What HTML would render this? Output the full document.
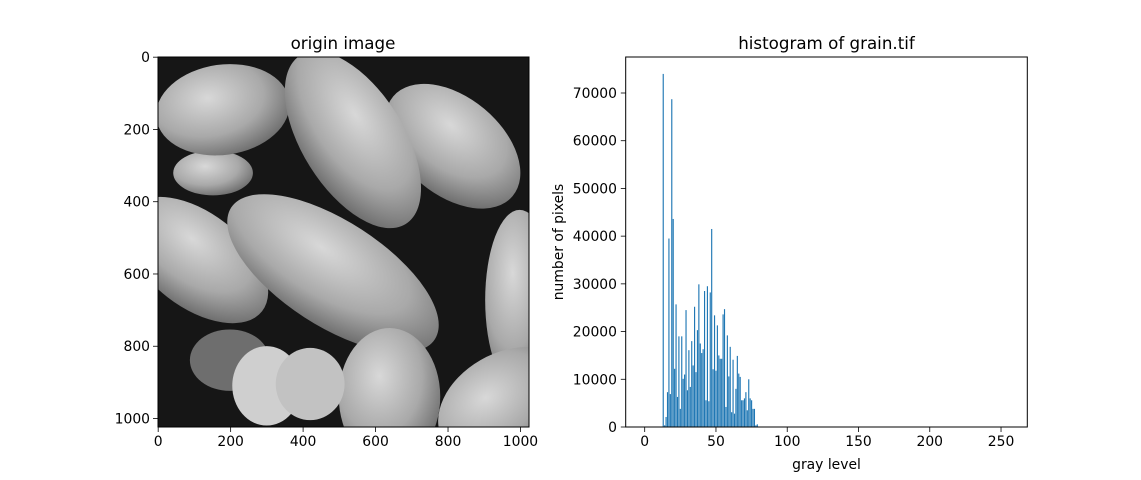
<!DOCTYPE html>
<html><head><meta charset="utf-8"><style>
html,body{margin:0;padding:0;background:#fff;}
svg{display:block;font-family:"DejaVu Sans","Liberation Sans",sans-serif;}
</style></head><body>
<svg id="fig" width="1141" height="480" viewBox="0 0 1141 480">
<defs>
<radialGradient id="pg" cx="40%" cy="35%" r="70%">
<stop offset="0" stop-color="#d8d8d8"/><stop offset="0.6" stop-color="#a9a9a9"/><stop offset="1" stop-color="#6a6a6a"/>
</radialGradient>
<clipPath id="imgclip"><rect x="0" y="0" width="1024" height="1024"/></clipPath>
</defs>
<g>
<svg x="158" y="57" width="371" height="370" viewBox="0 0 1024 1024" preserveAspectRatio="none">
<g clip-path="url(#imgclip)">
<rect x="0" y="0" width="1024" height="1024" fill="#161616"/>
<ellipse cx="198" cy="839" rx="110" ry="85" fill="#6e6e6e"/>
<ellipse cx="152" cy="321" rx="110" ry="62" fill="url(#pg)"/>
<ellipse cx="179" cy="146" rx="185" ry="125" transform="rotate(-8 179 146)" fill="url(#pg)"/>
<ellipse cx="814" cy="247" rx="215" ry="135" transform="rotate(40 814 247)" fill="url(#pg)"/>
<ellipse cx="538" cy="229" rx="275" ry="140" transform="rotate(58 538 229)" fill="url(#pg)"/>
<ellipse cx="998" cy="673" rx="95" ry="250" fill="url(#pg)"/>
<ellipse cx="106" cy="562" rx="230" ry="130" transform="rotate(38 106 562)" fill="url(#pg)"/>
<ellipse cx="483" cy="599" rx="335" ry="145" transform="rotate(33 483 599)" fill="url(#pg)"/>
<ellipse cx="639" cy="940" rx="140" ry="190" fill="url(#pg)"/>
<ellipse cx="300" cy="910" rx="95" ry="110" fill="#cfcfcf"/>
<ellipse cx="420" cy="905" rx="95" ry="100" fill="#c2c2c2"/>
<ellipse cx="960" cy="960" rx="200" ry="140" transform="rotate(-30 960 960)" fill="url(#pg)"/>
</g>
</svg>
<rect x="158" y="57" width="371" height="370" fill="none" stroke="#000" stroke-width="1"/>
<text x="343" y="49" font-size="16.7" text-anchor="middle">origin image</text>
<g id="lticks"></g>
</g>
<g>
<rect x="625.7" y="57" width="401.6" height="370" fill="#fff"/>
<g id="bars"></g>
<rect x="625.7" y="57" width="401.6" height="370" fill="none" stroke="#000" stroke-width="1"/>
<g id="rticks"></g>
<text x="826.5" y="49" font-size="16.7" text-anchor="middle">histogram of grain.tif</text>
<text x="826.5" y="469" font-size="13.9" text-anchor="middle">gray level</text>
<text x="0" y="0" font-size="13.9" text-anchor="middle" transform="translate(563 242) rotate(-90)">number of pixels</text>
</g>
<script>
const levels = [13,14,15,16,17,18,19,20,21,22,23,24,25,26,27,28,29,30,31,32,33,34,35,36,37,38,39,40,41,42,43,44,45,46,47,48,49,50,51,52,53,54,55,56,57,58,59,60,61,62,63,64,65,66,67,68,69,70,71,72,73,74,75,76,77,78,79];
const counts = [74000,350,2100,7300,39500,6900,68700,43600,12200,25700,6300,19000,3800,19000,10100,11000,24500,7700,16100,8400,18000,12900,25200,11500,20300,29900,17500,15500,16300,28500,5600,29500,5400,28200,41500,12100,23400,11800,21300,15000,14300,14300,23600,24700,4200,19200,10600,16800,3100,14100,2800,8000,14900,11200,10500,5600,5600,6000,7300,3500,10000,6000,5600,3800,3800,350,560];
const xTicks = [0,50,100,150,200,250];
const yTicks = [0,10000,20000,30000,40000,50000,60000,70000];
const imgTicks = [0,200,400,600,800,1000];
const NS='http://www.w3.org/2000/svg';
const xs = v => 644.7 + v*1.4253;
const ys = v => 427 - v*(334/70000);
const ix = v => 158 + (v+0.5)*371/1024;
const iy = v => 57 + (v+0.5)*370/1024;
function mk(tag, attrs, parent){const e=document.createElementNS(NS,tag);for(const k in attrs)e.setAttribute(k,attrs[k]);parent.appendChild(e);return e;}
const bars=document.getElementById('bars');
levels.forEach((lv,i)=>{
  const r=mk('rect',{x:xs(lv-0.4),y:ys(counts[i]),width:0.8*1.4253,height:427-ys(counts[i]),fill:'#1f77b4'},bars);
  
  
});
const rt=document.getElementById('rticks');
xTicks.forEach(t=>{
  const l=mk('line',{x1:xs(t),x2:xs(t),y1:427,y2:432,stroke:'#000','stroke-width':0.8},rt);
  
  
  const tx=mk('text',{x:xs(t),y:446,'font-size':13.9,'text-anchor':'middle'},rt);
  tx.textContent=t;
  
  
});
yTicks.forEach(t=>{
  const l=mk('line',{x1:620.8,x2:625.7,y1:ys(t),y2:ys(t),stroke:'#000','stroke-width':0.8},rt);
  
  
  const tx=mk('text',{x:617,y:ys(t)+5,'font-size':13.9,'text-anchor':'end'},rt);
  tx.textContent=t;
  
  
});
const lt=document.getElementById('lticks');
imgTicks.forEach(t=>{
  const l=mk('line',{x1:ix(t),x2:ix(t),y1:427,y2:432,stroke:'#000','stroke-width':0.8},lt);
  
  
  const tx=mk('text',{x:ix(t),y:446,'font-size':13.9,'text-anchor':'middle'},lt);
  tx.textContent=t;
  
  
  const l2=mk('line',{x1:153,x2:158,y1:iy(t),y2:iy(t),stroke:'#000','stroke-width':0.8},lt);
  
  
  const ty=mk('text',{x:150,y:iy(t)+5,'font-size':13.9,'text-anchor':'end'},lt);
  ty.textContent=t;
  
  
});
</script>
</svg>
</body></html>
